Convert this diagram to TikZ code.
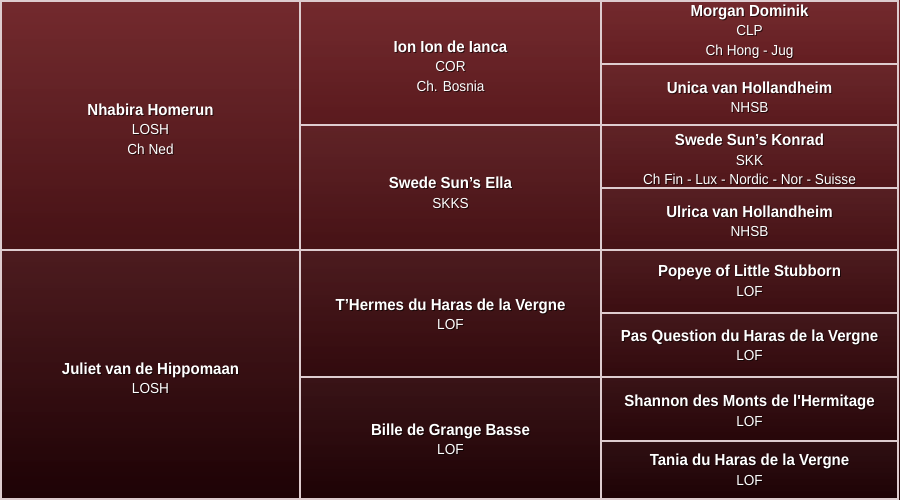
\documentclass[tikz,border=0pt]{standalone}
\usepackage{fontspec}
\setmainfont[FakeStretch=0.94]{Liberation Sans}
\usepackage{tikz}
\usetikzlibrary{fadings}
\definecolor{bgtop}{RGB}{110,34,38}
\definecolor{bgmid}{RGB}{74,16,20}
\definecolor{bgbot}{RGB}{30,3,6}
\definecolor{rule}{RGB}{222,204,207}
\tikzset{every picture/.style={
  x=1pt, y=-1pt                 % Pixel grid, y downwards.
  }
}
% Name in bold, registry and titles below it.
\newcommand\reg{\fontsize{14.5}{19.5}\selectfont}
% Helper: dog node with a soft text shadow.
\newcommand\dog[3]{%
  \node[dog, text=black, text opacity=.6] at ([shift={(1,1)}] #2) {#3};
  \node[dog] (#1) at (#2) {#3};
}

\begin{document}
\begin{tikzpicture}[
      dog/.style={
        text=white,
        align=center,
        inner sep=0pt,
        font=\fontsize{16}{19.5}\selectfont
      },
      cellrule/.style={draw=rule, line width=2pt}]

      \useasboundingbox (0,0) rectangle (900,500);

      % Background of the whole chart.
      \shade[top color=bgtop, middle color=bgmid, bottom color=bgbot]
        (0,0) rectangle (900,500);

      % Draw the cells: parents, grandparents, great-grandparents.
      \foreach \xa/\xb/\ya/\yb in {1/300/1/250, 1/300/250/499,
          300/601/1/125, 300/601/125/250, 300/601/250/377, 300/601/377/499,
          601/898/1/64, 601/898/64/125, 601/898/125/188, 601/898/188/250,
          601/898/250/313, 601/898/313/377, 601/898/377/441, 601/898/441/499}
        \fill[white, fill opacity=.04, path fading=south]
          (\xa,\ya) rectangle (\xb,\yb);
      \foreach \xa/\xb/\ya/\yb in {1/300/1/250, 1/300/250/499,
          300/601/1/125, 300/601/125/250, 300/601/250/377, 300/601/377/499,
          601/898/1/64, 601/898/64/125, 601/898/125/188, 601/898/188/250,
          601/898/250/313, 601/898/313/377, 601/898/377/441, 601/898/441/499}
        \draw[cellrule] (\xa,\ya) rectangle (\xb,\yb);

      % Parents.
      \dog{sire}{150.5,129}{\textbf{Nhabira Homerun}\\\reg LOSH\\\reg Ch Ned}
      \dog{dam}{150.5,378.5}{\textbf{Juliet van de Hippomaan}\\\reg LOSH}

      % Grandparents.
      \dog{ss}{450.5,66}{\textbf{Ion Ion de Ianca}\\\reg COR\\\reg Ch. Bosnia}
      \dog{sd}{450.5,193}{\textbf{Swede Sun’s Ella}\\\reg SKKS}
      \dog{ds}{450.5,314.5}{\textbf{T’Hermes du Haras de la Vergne}\\\reg LOF}
      \dog{dd}{450.5,439.5}{\textbf{Bille de Grange Basse}\\\reg LOF}

      % Great-grandparents.
      \dog{sss}{749.5,31.5}{\textbf{Morgan Dominik}\\\reg CLP\\\reg Ch Hong - Jug}
      \dog{ssd}{749.5,97.5}{\textbf{Unica van Hollandheim}\\\reg NHSB}
      \dog{sds}{749.5,159.5}{\textbf{Swede Sun’s Konrad}\\\reg SKK\\%
        \reg Ch Fin - Lux - Nordic - Nor - Suisse}
      \dog{sdd}{749.5,221.5}{\textbf{Ulrica van Hollandheim}\\\reg NHSB}
      \dog{dss}{749.5,281}{\textbf{Popeye of Little Stubborn}\\\reg LOF}
      \dog{dsd}{749.5,345.5}{\textbf{Pas Question du Haras de la Vergne}\\\reg LOF}
      \dog{dds}{749.5,411}{\textbf{Shannon des Monts de l\textquotesingle Hermitage}\\\reg LOF}
      \dog{ddd}{749.5,470}{\textbf{Tania du Haras de la Vergne}\\\reg LOF}

    \end{tikzpicture}
\end{document}
